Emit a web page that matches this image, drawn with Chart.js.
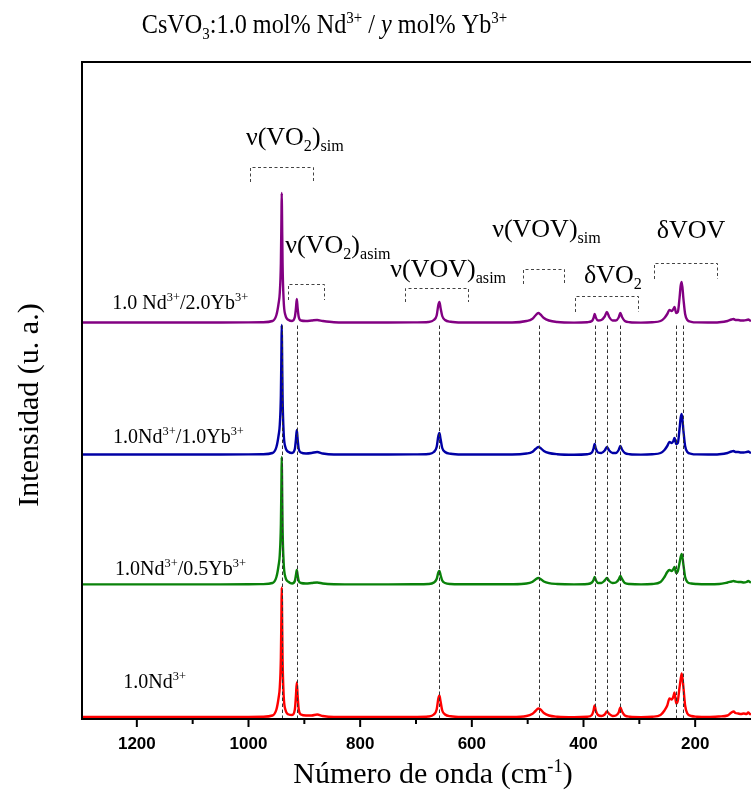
<!DOCTYPE html>
<html>
<head>
<meta charset="utf-8">
<script src="https://cdn.jsdelivr.net/npm/chart.js@4.4.0/dist/chart.umd.min.js"></script>
<style>
body { margin: 0; background: #fff; }
#wrap { width: 751px; height: 796px; position: relative; }
</style>
</head>
<body>
<div id="wrap"><canvas id="espectro"></canvas></div>
<script>
// Raman spectra, wavenumber in cm-1, intensity in arbitrary units
const wavenumber = [
  1300, 1250, 1200, 1150, 1100, 1050, 1000, 975, 957, 950, 946, 944, 942, 941, 940.5, 940, 939, 937, 934, 928,
  922, 917, 915, 913.5, 912, 910, 906, 897, 887, 877, 867, 847, 800, 750, 700,
  678, 668, 663, 660, 658, 656, 653, 648, 638, 618,
  578, 528, 502, 492, 486, 481, 477, 471, 462, 447, 417,
  393, 385, 382, 380, 378, 374, 368, 362, 358, 354, 348, 342, 337, 334, 331, 326, 317, 297, 277,
  262, 255, 250, 246, 242, 239, 237, 234, 231, 228, 226, 224, 221, 218, 214, 207, 197, 177, 157,
  142, 135, 131, 128, 123, 118, 113, 108, 105, 102, 100
];

const intNd = [
  0.5, 0.5, 0.5, 0.5, 0.5, 0.5, 0.6, 0.8,
  2, 8, 20, 30, 60, 105, 130, 110, 60, 22, 8, 3,
  2.5, 8, 22, 35, 22, 8, 3, 2, 2, 3, 1.5, 0.5,
  0.5, 0.5, 0.6,
  1, 3, 8, 19, 22, 16, 7, 3, 1.2, 0.5,
  0.5, 0.5, 1.5, 3.5, 6.5, 9, 8, 4.5, 2, 0.8, 0.3,
  0.8, 2.5, 7, 12, 7, 2.5, 1.5, 3, 6, 3.5, 1.5, 2, 5, 10, 6, 2, 0.8, 0.4, 0.8,
  2.5, 7, 12, 19, 18, 21, 25, 14, 17, 30, 38, 44, 30, 12, 4, 1.5, 0.8, 0.5, 1,
  2, 5, 6, 4.5, 4, 3.5, 4, 3.5, 5, 3.5, 3
];

const intYb05 = [
  0.6, 0.6, 0.6, 0.6, 0.6, 0.6, 0.7, 0.9,
  2, 8, 20, 30, 60, 103, 128, 108, 58, 22, 8, 3,
  1.5, 4, 10, 15, 10, 4, 2, 1.5, 2, 2.5, 1.5, 0.8,
  0.6, 0.6, 0.7,
  1, 2.5, 6, 12.5, 14, 10, 4.5, 2, 1, 0.8,
  0.7, 0.8, 1.5, 3, 5.5, 7, 6, 3.5, 1.8, 1, 0.6,
  1, 2.5, 5, 8, 5, 2, 2, 4.5, 7, 4, 2, 2.5, 5.5, 9, 6, 2, 1, 0.6, 1,
  3, 8, 13, 15, 14, 16, 18, 12, 14, 22, 28, 31, 20, 8, 3, 1.5, 1, 0.8, 1,
  2.5, 3.5, 4, 3.5, 3, 3, 2.5, 3, 4, 3, 2.5
];

const intYb10 = [
  0.5, 0.5, 0.5, 0.5, 0.5, 0.5, 0.6, 0.8,
  2, 8, 20, 30, 60, 105, 130, 110, 60, 22, 8, 3,
  2, 6, 16, 25, 16, 6, 2.5, 1.5, 2, 3, 1.5, 0.5,
  0.5, 0.5, 0.6,
  1, 3, 8, 19, 22, 16, 7, 3, 1.2, 0.5,
  0.5, 0.5, 1.5, 3, 6, 8, 7, 4, 2, 0.8, 0.3,
  0.8, 2.5, 6.5, 11, 6.5, 2.5, 2, 4.5, 8, 4.5, 2, 2, 5, 9, 5.5, 2, 0.8, 0.4, 0.8,
  2, 5, 9, 13, 12, 14, 17, 11, 12, 26, 37, 41, 24, 9, 3, 1.2, 0.6, 0.5, 0.8,
  2, 3.5, 4, 3, 3, 2.5, 2.5, 3, 3.5, 2.5, 2
];

const intYb20 = [
  0.5, 0.5, 0.5, 0.5, 0.5, 0.5, 0.6, 0.8,
  2, 8, 20, 30, 60, 105, 130, 110, 60, 22, 8, 3,
  2, 6, 15, 24, 15, 6, 2.5, 2, 2.5, 3, 2, 0.8,
  0.5, 0.5, 0.6,
  1, 3, 7.5, 18, 21, 15, 7, 3, 1.2, 0.5,
  0.5, 0.5, 2, 4, 7.5, 10, 8.5, 5, 2.5, 1, 0.4,
  0.8, 2, 5, 9, 5.5, 2.5, 3, 6.5, 11, 6, 2.5, 2.5, 5.5, 10, 6, 2, 0.8, 0.4, 0.8,
  2, 5, 9, 13, 12, 14, 16, 10, 11, 25, 37, 41, 24, 9, 3, 1.2, 0.6, 0.5, 0.8,
  2, 3.5, 4, 3, 3, 2.5, 2.5, 3, 3.5, 2.5, 2
];

// vertical shift of each spectrum (stacked plot)
const offsets = [1.5, 134, 264, 396];
const colores = ['rgb(255,0,0)', 'rgb(10,130,10)', 'rgb(0,0,165)', 'rgb(130,0,130)'];

const majorTicks = [1200, 1000, 800, 600, 400, 200];
const minorTicks = [1100, 900, 700, 500, 300];

// band positions marked with dashed lines
const bandas = [940.5, 913.5, 658, 480, 380, 357.5, 334, 234, 221];
const bandTop = 396;

// brackets: [from, to, top, bottom]
const corchetes = [
  [998, 885, 552, 537],
  [929, 865, 435, 419],
  [720, 607, 431, 417],
  [508, 434.5, 450, 435],
  [415, 302.5, 423, 407],
  [274, 161.5, 456, 440]
];

// label texts, anchored at [wavenumber, y] (left, baseline)
const etiquetas = [
  { at: [1004.7, 574], parts: [['ν(VO'], ['2', 'sub'], [')'], ['sim', 'sub']] },
  { at: [934, 466], parts: [['ν(VO'], ['2', 'sub'], [')'], ['asim', 'sub']] },
  { at: [746, 442], parts: [['ν(VOV)'], ['asim', 'sub']] },
  { at: [563.6, 482], parts: [['ν(VOV)'], ['sim', 'sub']] },
  { at: [399.3, 436], parts: [['δVO'], ['2', 'sub']] },
  { at: [269, 481], parts: [['δVOV']] }
];

const nombres = [
  { at: [1224.2, 31], parts: [['1.0Nd'], ['3+', 'sup']] },
  { at: [1239, 144], parts: [['1.0Nd'], ['3+', 'sup'], ['/0.5Yb'], ['3+', 'sup']] },
  { at: [1242.6, 276], parts: [['1.0Nd'], ['3+', 'sup'], ['/1.0Yb'], ['3+', 'sup']] },
  { at: [1243.9, 410], parts: [['1.0 Nd'], ['3+', 'sup'], ['/2.0Yb'], ['3+', 'sup']] }
];

const SERIF = '"Liberation Serif", "Times New Roman", serif';

function fontFor(p, size) {
  const m = p[1] || '';
  const s = (m === 'sub' || m === 'sup') ? size * 0.62 : size;
  return (m === 'i' ? 'italic ' : '') + s + 'px ' + SERIF;
}

function richWidth(ctx, parts, size) {
  let w = 0;
  parts.forEach(p => { ctx.font = fontFor(p, size); w += ctx.measureText(p[0]).width; });
  return w;
}

function drawRich(ctx, parts, x, y, size, align) {
  let cx = align === 'center' ? x - richWidth(ctx, parts, size) / 2 : x;
  parts.forEach(p => {
    ctx.font = fontFor(p, size);
    let dy = 0;
    if (p[1] === 'sub') dy = size * 0.22;
    if (p[1] === 'sup') dy = -size * 0.38;
    ctx.fillText(p[0], cx, y + dy);
    cx += ctx.measureText(p[0]).width;
  });
}

const series = [intNd, intYb05, intYb10, intYb20];
const datasets = series.map((arr, k) => ({
  data: wavenumber.map((w, i) => ({ x: w, y: arr[i] + offsets[k] })),
  borderColor: colores[k],
  borderWidth: 2.4,
  pointRadius: 0,
  fill: false,
  cubicInterpolationMode: 'monotone'
}));

const decor = {
  id: 'decor',
  afterDatasetsDraw(chart) {
    const ctx = chart.ctx, xs = chart.scales.x, ys = chart.scales.y;
    ctx.save();
    ctx.strokeStyle = '#333';
    ctx.lineWidth = 1;
    ctx.setLineDash([3.5, 2.5]);
    bandas.forEach(b => {
      const px = Math.round(xs.getPixelForValue(b)) + 0.5;
      ctx.beginPath();
      ctx.moveTo(px, ys.getPixelForValue(0));
      ctx.lineTo(px, ys.getPixelForValue(bandTop));
      ctx.stroke();
    });
    ctx.strokeStyle = '#444';
    ctx.setLineDash([3, 2.5]);
    corchetes.forEach(c => {
      const x1 = Math.round(xs.getPixelForValue(c[0])) + 0.5;
      const x2 = Math.round(xs.getPixelForValue(c[1])) + 0.5;
      const yt = Math.round(ys.getPixelForValue(c[2])) + 0.5;
      const yb = ys.getPixelForValue(c[3]);
      ctx.beginPath();
      ctx.moveTo(x1, yb); ctx.lineTo(x1, yt); ctx.lineTo(x2, yt); ctx.lineTo(x2, yb);
      ctx.stroke();
    });
    ctx.restore();
  },
  afterDraw(chart) {
    const ctx = chart.ctx, xs = chart.scales.x, ys = chart.scales.y;
    const a = chart.chartArea;
    ctx.save();
    // frame
    ctx.strokeStyle = '#000';
    ctx.lineWidth = 2;
    ctx.beginPath();
    ctx.moveTo(a.right, a.top + 1);
    ctx.lineTo(a.left + 1, a.top + 1);
    ctx.lineTo(a.left + 1, a.bottom);
    ctx.lineTo(a.right, a.bottom);
    ctx.stroke();
    // ticks
    majorTicks.forEach(t => {
      const px = xs.getPixelForValue(t);
      ctx.beginPath(); ctx.moveTo(px, a.bottom); ctx.lineTo(px, a.bottom + 8); ctx.stroke();
    });
    minorTicks.forEach(t => {
      const px = xs.getPixelForValue(t);
      ctx.beginPath(); ctx.moveTo(px, a.bottom); ctx.lineTo(px, a.bottom + 5); ctx.stroke();
    });
    ctx.fillStyle = '#000';
    ctx.font = 'bold 17px "Liberation Sans", Arial, sans-serif';
    ctx.textAlign = 'center';
    ctx.textBaseline = 'alphabetic';
    majorTicks.forEach(t => ctx.fillText(String(t), xs.getPixelForValue(t), a.bottom + 30));
    ctx.textAlign = 'left';
    // axis titles
    drawRich(ctx, [['Número de onda (cm'], ['-1', 'sup'], [')']], 433, 783, 30, 'center');
    ctx.save();
    ctx.translate(38, 405);
    ctx.rotate(-Math.PI / 2);
    drawRich(ctx, [['Intensidad (u. a.)']], 0, 0, 30, 'center');
    ctx.restore();
    // title (slightly condensed like the original)
    ctx.save();
    ctx.translate(324.5, 33);
    ctx.scale(0.88, 1);
    drawRich(ctx, [['CsVO'], ['3', 'sub'], [':1.0 mol% Nd'], ['3+', 'sup'], [' / '], ['y', 'i'], [' mol% Yb'], ['3+', 'sup']], 0, 0, 27.5, 'center');
    ctx.restore();
    // band labels
    etiquetas.forEach(e => drawRich(ctx, e.parts, xs.getPixelForValue(e.at[0]), ys.getPixelForValue(e.at[1]), 26, 'left'));
    nombres.forEach(e => drawRich(ctx, e.parts, xs.getPixelForValue(e.at[0]), ys.getPixelForValue(e.at[1]), 20, 'left'));
    ctx.restore();
  }
};

const ctx = document.getElementById('espectro').getContext('2d');
const chart = new Chart(ctx, {
  type: 'line',
  data: { datasets: datasets },
  options: {
    responsive: true,
    maintainAspectRatio: false,
    animation: false,
    layout: { padding: { left: 81, right: 0, top: 61, bottom: 77 } },
    plugins: { legend: { display: false }, tooltip: { enabled: false }, title: { display: false } },
    scales: {
      x: { type: 'linear', reverse: true, min: 100, max: 1300, display: false },
      y: { type: 'linear', min: 0, max: 658, display: false }
    }
  },
  plugins: [decor]
});
</script>
</body>
</html>
